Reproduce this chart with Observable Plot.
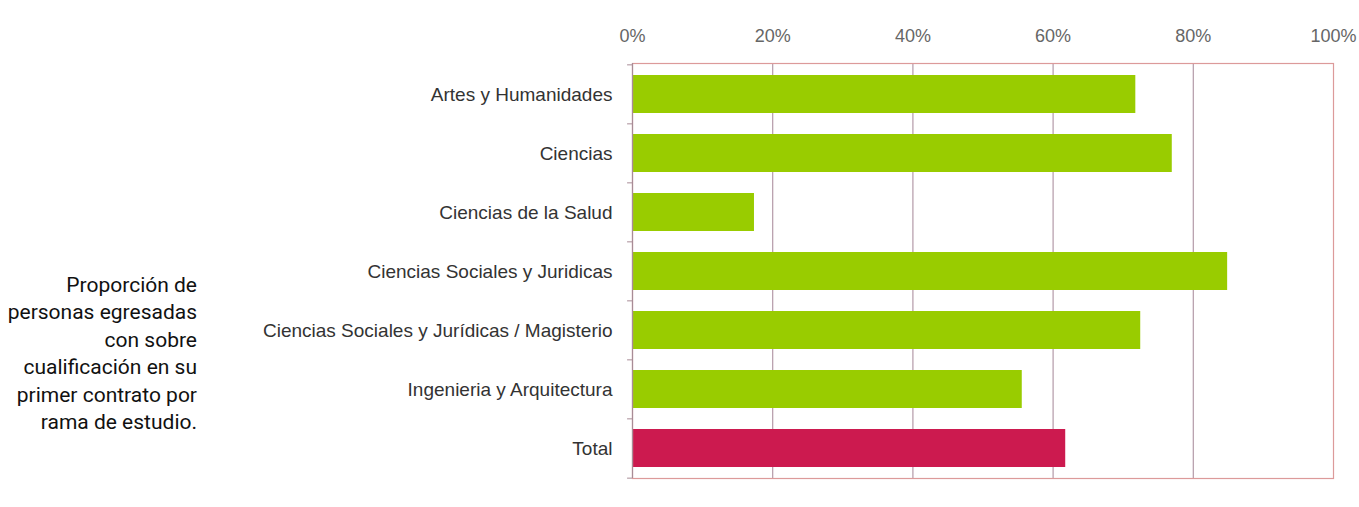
<!DOCTYPE html>
<html><head><meta charset="utf-8">
<script src="https://cdn.jsdelivr.net/npm/d3@7"></script>
<script src="https://cdn.jsdelivr.net/npm/@observablehq/plot@0.6"></script>
<style>
body{margin:0;background:#fff;}
#wrap{position:relative;width:1359px;height:507px;}
#note{position:absolute;left:0;top:272px;width:197px;text-align:right;white-space:nowrap;font-family:Roboto,"Liberation Sans",sans-serif;font-size:21px;line-height:27.4px;color:#111;}
#chart{position:absolute;left:0;top:0;}
</style></head><body>
<div id="wrap"><div id="chart"></div><div id="note">Proporción de<br>personas egresadas<br>con sobre<br>cualificación en su<br>primer contrato por<br>rama de estudio.</div></div>
<script>
const categories = [
  "Artes y Humanidades",
  "Ciencias",
  "Ciencias de la Salud",
  "Ciencias Sociales y Juridicas",
  "Ciencias Sociales y Jurídicas / Magisterio",
  "Ingenieria y Arquitectura",
  "Total"
];
const values = [71.8, 77.0, 17.4, 84.9, 72.5, 55.6, 61.8];
const xTicks = [0, 20, 40, 60, 80, 100];
const gridTicks = [20, 40, 60, 80];

const data = categories.map((c, i) => ({category: c, value: values[i]}));
const mT = 63, mB = 29, H = 507;
const step = (H - mT - mB) / categories.length;

const chart = Plot.plot({
  width: 1359, height: H,
  marginLeft: 632, marginRight: 26, marginTop: mT, marginBottom: mB,
  style: {fontFamily: "'Liberation Sans', Arial, sans-serif", background: "white", overflow: "visible"},
  x: {domain: [0, 100], axis: null, label: null},
  y: {domain: categories, paddingInner: 0.36, paddingOuter: 0.18, axis: null, label: null},
  marks: [
    Plot.ruleX(gridTicks, {stroke: "#b49aa8", strokeWidth: 1.2}),
    Plot.barX(data, {x: "value", y: "category", fill: d => d.category === "Total" ? "#cc1a4f" : "#99cc00"}),
    Plot.frame({stroke: "#dc9a9a", strokeWidth: 1.2}),
    Plot.ruleX([0], {stroke: "#a88c96", strokeWidth: 1.2}),
    Plot.ruleY(categories, {y: d => d, x1: -0.7, x2: 0, dy: -step / 2, stroke: "#a88c96"}),
    Plot.ruleY(categories.slice(-1), {y: d => d, x1: -0.7, x2: 0, dy: step / 2, stroke: "#a88c96"}),
    Plot.axisX({anchor: "top", ticks: xTicks, tickSize: 0, tickPadding: 22, tickFormat: d => d + "%", fontSize: 18, fill: "#666", label: null}),
    Plot.axisY({anchor: "left", tickSize: 0, tickPadding: 20, fontSize: 19, fill: "#333", label: null})
  ]
});
document.getElementById("chart").appendChild(chart);
</script>
</body></html>
